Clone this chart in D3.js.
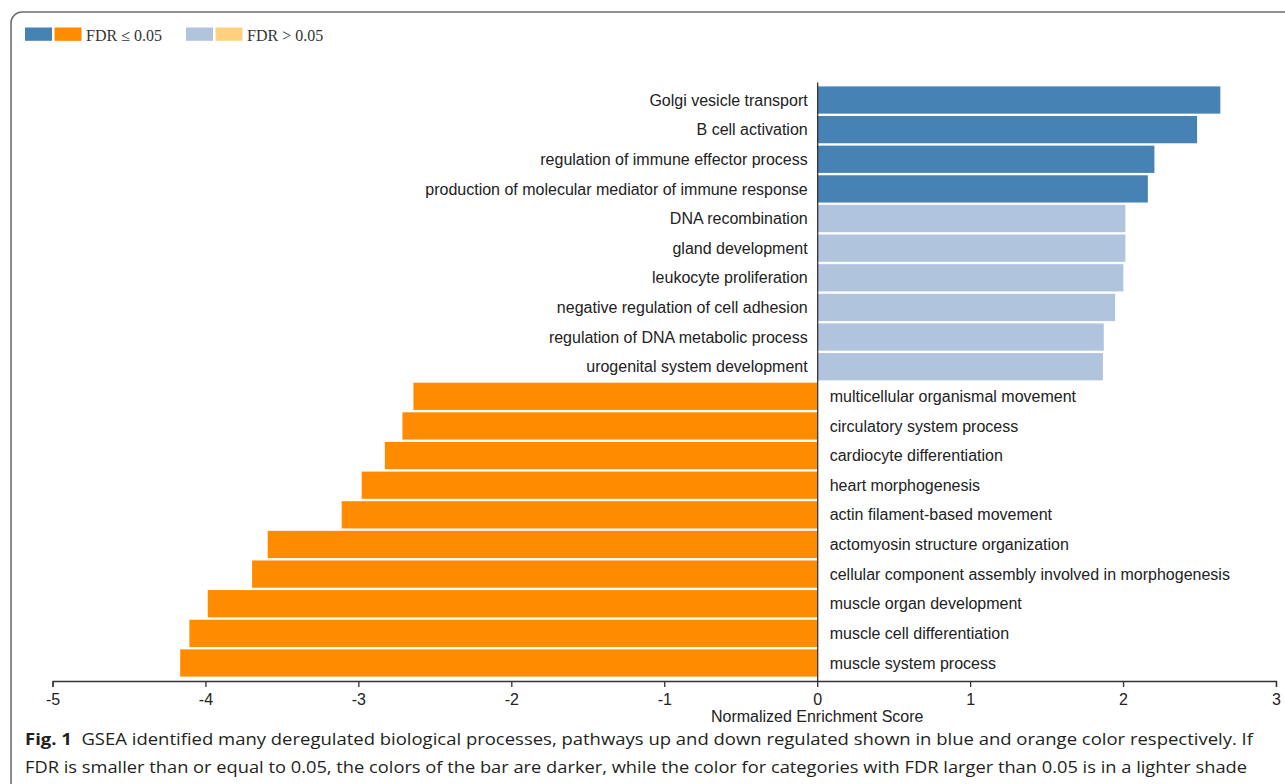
<!DOCTYPE html>
<html>
<head>
<meta charset="utf-8">
<script src="https://cdn.jsdelivr.net/npm/d3@7"></script>
<style>
  html, body { margin: 0; padding: 0; background: #fff; }
  svg { display: block; }
</style>
</head>
<body>
<svg id="chart" width="1285" height="784"></svg>
<script>
// GSEA biological processes, top to bottom
const terms = [
  "Golgi vesicle transport",
  "B cell activation",
  "regulation of immune effector process",
  "production of molecular mediator of immune response",
  "DNA recombination",
  "gland development",
  "leukocyte proliferation",
  "negative regulation of cell adhesion",
  "regulation of DNA metabolic process",
  "urogenital system development",
  "multicellular organismal movement",
  "circulatory system process",
  "cardiocyte differentiation",
  "heart morphogenesis",
  "actin filament-based movement",
  "actomyosin structure organization",
  "cellular component assembly involved in morphogenesis",
  "muscle organ development",
  "muscle cell differentiation",
  "muscle system process"
];
// normalized enrichment scores
const nes = [
  2.636, 2.484, 2.205, 2.162, 2.015, 2.015, 2.002, 1.948, 1.874, 1.868,
  -2.64, -2.712, -2.827, -2.978, -3.109, -3.593, -3.695, -3.985, -4.105, -4.165
];
// false discovery rate passes 0.05 threshold?
const significant = [
  true, true, true, true, false, false, false, false, false, false,
  true, true, true, true, true, true, true, true, true, true
];
const xTicks = [-5, -4, -3, -2, -1, 0, 1, 2, 3];
const legendItems = [
  { label: "FDR \u2264 0.05", colors: ["#4682b4", "#ff8c00"] },
  { label: "FDR > 0.05", colors: ["#b0c4de", "#ffd17f"] }
];
const captionBold = "Fig. 1";
const captionLine1 = "GSEA identified many deregulated biological processes, pathways up and down regulated shown in blue and orange color respectively. If";
const captionLine2 = "FDR is smaller than or equal to 0.05, the colors of the bar are darker, while the color for categories with FDR larger than 0.05 is in a lighter shade";

const svg = d3.select("#chart");
const sans = "'Liberation Sans', Arial, sans-serif";
const textColor = "#222";

// figure frame with rounded top-left corner
svg.append("path")
  .attr("d", "M11,784 V23 A11,11 0 0 1 22,12 H1285")
  .attr("fill", "none")
  .attr("stroke", "#6e6e6e")
  .attr("stroke-width", 1.6);

const x = d3.scaleLinear().domain([-5, 3]).range([52.5, 1276]);
const y = d3.scaleBand().domain(terms).range([82, 681])
  .paddingInner(0.08).paddingOuter(0.148);

function barColor(i) {
  const up = nes[i] > 0;
  if (significant[i]) return up ? legendItems[0].colors[0] : legendItems[0].colors[1];
  return up ? legendItems[1].colors[0] : legendItems[1].colors[1];
}

// bars
svg.append("g").selectAll("rect")
  .data(terms)
  .join("rect")
  .attr("x", (d, i) => Math.min(x(0), x(nes[i])))
  .attr("y", d => y(d))
  .attr("width", (d, i) => Math.abs(x(nes[i]) - x(0)))
  .attr("height", y.bandwidth())
  .attr("fill", (d, i) => barColor(i));

// term labels on the opposite side of the zero line
svg.append("g").selectAll("text")
  .data(terms)
  .join("text")
  .attr("x", (d, i) => nes[i] > 0 ? x(0) - 9.5 : x(0) + 12.5)
  .attr("y", d => y(d) + y.bandwidth() / 2)
  .attr("dy", "0.35em")
  .attr("text-anchor", (d, i) => nes[i] > 0 ? "end" : "start")
  .attr("font-family", sans)
  .attr("font-size", 16)
  .attr("fill", textColor)
  .text(d => d);

// zero line
const yAxis = svg.append("g")
  .attr("transform", `translate(${x(0)},0)`)
  .call(d3.axisLeft(y).tickSize(0).tickSizeOuter(0).tickFormat(""));
yAxis.select(".domain").attr("stroke", "#333").attr("stroke-width", 1.3);

// x axis (plain hyphen for negative ticks)
const xAxis = svg.append("g")
  .attr("transform", `translate(0,${681})`)
  .call(d3.axisBottom(x).tickValues(xTicks).tickFormat(d => String(d))
    .tickSize(6).tickSizeOuter(6).tickPadding(7));
xAxis.select(".domain").attr("stroke", "#333").attr("stroke-width", 1.3);
xAxis.selectAll(".tick line").attr("stroke", "#333").attr("stroke-width", 1.3);
xAxis.selectAll(".tick text")
  .attr("font-family", sans).attr("font-size", 16).attr("fill", textColor);

svg.append("text")
  .attr("x", x(0))
  .attr("y", 722)
  .attr("text-anchor", "middle")
  .attr("font-family", sans)
  .attr("font-size", 16)
  .attr("fill", textColor)
  .text("Normalized Enrichment Score");

// legend
const legendX = [25, 186];
legendItems.forEach((item, k) => {
  const g = svg.append("g").attr("transform", `translate(${legendX[k]},27.5)`);
  item.colors.forEach((c, j) => {
    g.append("rect")
      .attr("x", j * 29.5).attr("y", 0)
      .attr("width", 27).attr("height", 13.3)
      .attr("fill", c);
  });
  g.append("text")
    .attr("x", 61).attr("y", 13.3)
    .attr("font-family", "'Liberation Serif', 'Times New Roman', serif")
    .attr("font-size", 16)
    .attr("fill", "#333")
    .text(item.label);
});

// caption
const capFont = "'Open Sans', 'Noto Sans', sans-serif";
const cap1 = svg.append("text")
  .attr("x", 25).attr("y", 745)
  .attr("font-family", capFont).attr("font-size", 16)
  .attr("fill", "#231f20")
  .attr("textLength", 1228).attr("lengthAdjust", "spacingAndGlyphs");
cap1.append("tspan").attr("font-weight", "bold").text(captionBold);
cap1.append("tspan").text("\u00a0\u00a0" + captionLine1);

svg.append("text")
  .attr("x", 25).attr("y", 773)
  .attr("font-family", capFont).attr("font-size", 16)
  .attr("fill", "#231f20")
  .attr("textLength", 1222).attr("lengthAdjust", "spacingAndGlyphs")
  .text(captionLine2);
</script>
</body>
</html>
